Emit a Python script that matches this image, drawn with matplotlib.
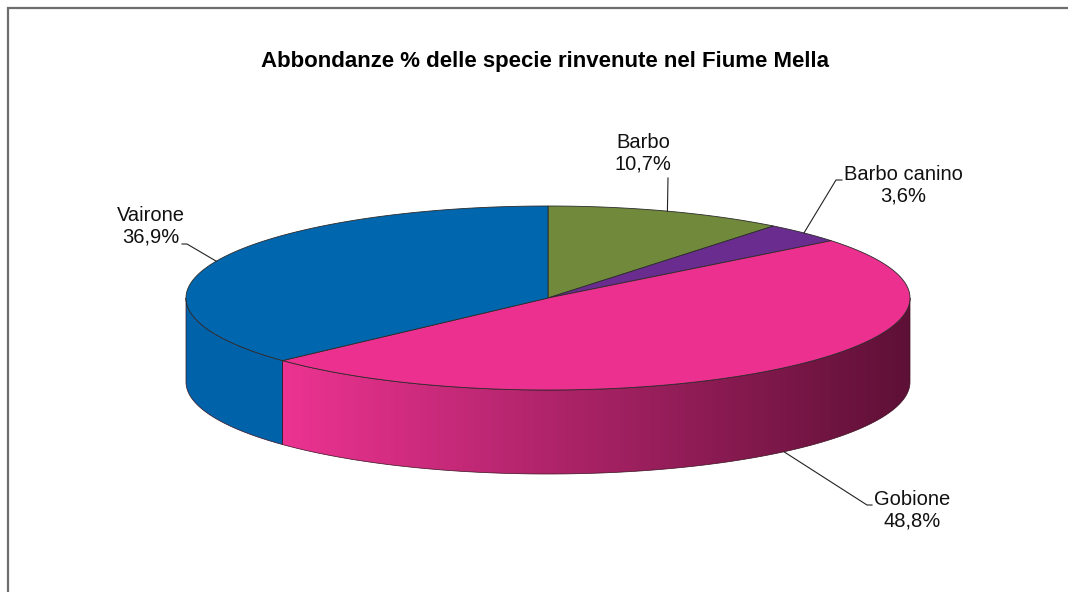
import numpy as np
import matplotlib
matplotlib.use("Agg")
import matplotlib.pyplot as plt
from matplotlib.patches import Polygon
from matplotlib.colors import LinearSegmentedColormap

plt.rcParams['font.family'] = ['Liberation Sans', 'DejaVu Sans']

# --- data ---
species = ['Barbo', 'Barbo canino', 'Gobione', 'Vairone']
shares = [10.7, 3.6, 48.8, 36.9]
top_colors = ['#71893A', '#6A2D8F', '#EC308F', '#0067AF']
side_colors = [('#5C6F2E', '#5C6F2E'), ('#55246F', '#55246F'),
               ('#EC3391', '#5E1036'), ('#0062A8', '#0066AE')]
title = 'Abbondanze % delle specie rinvenute nel Fiume Mella'

# --- pie geometry (pixel space) ---
cx, cy = 548, 298
rx, ry = 362, 92
depth = 84

W, H = 1068, 592
fig = plt.figure(figsize=(W / 100, H / 100), dpi=100)
ax = fig.add_axes([0, 0, 1, 1])
ax.set_xlim(0, W)
ax.set_ylim(H, 0)
ax.axis('off')


def ell(theta, dy=0.0):
    # theta measured clockwise from 12 o'clock, in radians
    return cx + rx * np.sin(theta), cy - ry * np.cos(theta) + dy


fracs = np.array(shares) / sum(shares)
bounds = np.concatenate([[0], np.cumsum(fracs)]) * 2 * np.pi
edge_kw = dict(edgecolor='#2b2b2b', linewidth=0.6)

# side walls (only the front half of the cylinder is visible)
for i in range(len(shares)):
    t0 = max(bounds[i], np.pi / 2)
    t1 = min(bounds[i + 1], 3 * np.pi / 2)
    if t1 <= t0:
        continue
    t = np.linspace(t0, t1, 200)
    xt, yt = ell(t)
    xb, yb = ell(t[::-1], depth)
    verts = np.column_stack([np.concatenate([xt, xb]), np.concatenate([yt, yb])])
    poly = Polygon(verts, closed=True, facecolor='none', edgecolor='none')
    ax.add_patch(poly)
    cmap = LinearSegmentedColormap.from_list('side%d' % i, side_colors[i])
    grad = np.linspace(0, 1, 256).reshape(1, -1)
    img = ax.imshow(grad, cmap=cmap, extent=[verts[:, 0].min(), cx + rx, yb.max(), yt.min()],
                    aspect='auto', zorder=1)
    img.set_clip_path(poly)
    ax.add_patch(Polygon(verts, closed=True, facecolor='none',
                         edgecolor='#3a1020', linewidth=0.5, zorder=2))

# top face
for i in range(len(shares)):
    t = np.linspace(bounds[i], bounds[i + 1], 200)
    xt, yt = ell(t)
    verts = np.column_stack([np.concatenate([[cx], xt]), np.concatenate([[cy], yt])])
    ax.add_patch(Polygon(verts, closed=True, facecolor=top_colors[i], zorder=3, **edge_kw))

# labels with leader lines
mids = (bounds[:-1] + bounds[1:]) / 2
label_pos = [(643, 153), (903, 185), (912, 510), (151, 226)]
elbows = [[(668, 178)], [(836, 180), (842, 180)], [(867, 505), (872, 505)], [(187, 244), (182, 244)]]
for i, name in enumerate(species):
    mx, my = ell(mids[i])
    if np.cos(mids[i]) < 0:
        my += depth
    pts = [(mx, my)] + elbows[i]
    ax.plot([p[0] for p in pts], [p[1] for p in pts], color='#222222', lw=0.8, zorder=4)
    txt = '%s\n%s%%' % (name, ('%.1f' % shares[i]).replace('.', ','))
    ax.text(label_pos[i][0], label_pos[i][1], txt, ha='center', va='center',
            fontsize=14.5, linespacing=1.15, color='#111111', zorder=5)

ax.text(545, 62, title, ha='center', va='center', fontsize=16,
        fontweight='bold', color='#000000')

# chart frame (top and left edges visible)
ax.plot([8, 8, W], [H, 8, 8], color='#6e6e6e', lw=1.6, solid_joinstyle='miter')

fig.savefig('out.png', dpi=100)
